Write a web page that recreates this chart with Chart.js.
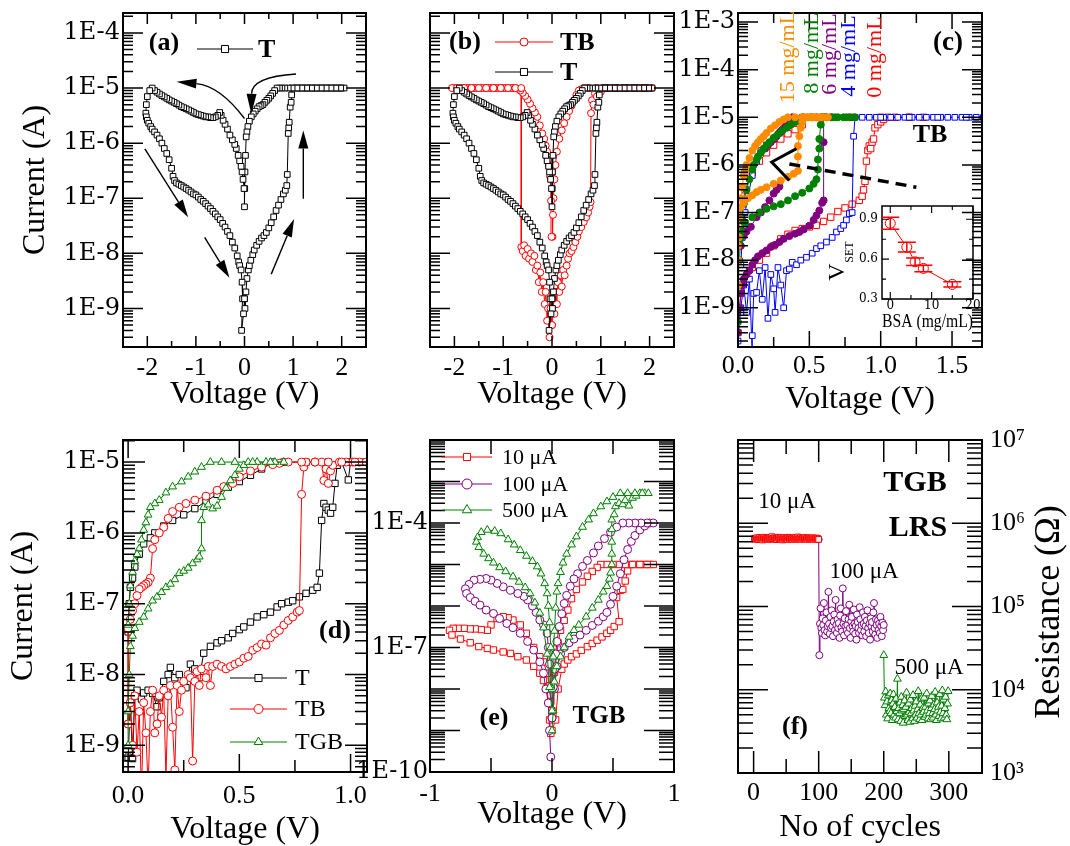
<!DOCTYPE html>
<html>
<head>
<meta charset="utf-8">
<script src="https://cdn.jsdelivr.net/npm/chart.js@4.4.1/dist/chart.umd.min.js"></script>
<style>
  body { margin: 0; background: #fff; }
  #wrap { position: relative; width: 1070px; height: 846px; background: #fff; }
  #wrap canvas { position: absolute; left: 0; top: 0; }
</style>
</head>
<body>
<div id="wrap">
  <canvas id="pa" width="1070" height="846"></canvas>
  <canvas id="pb" width="1070" height="846"></canvas>
  <canvas id="pc" width="1070" height="846"></canvas>
  <canvas id="pcInset" width="1070" height="846"></canvas>
  <canvas id="pd" width="1070" height="846"></canvas>
  <canvas id="pe" width="1070" height="846"></canvas>
  <canvas id="pf" width="1070" height="846"></canvas>
</div>
<script>
// ---------- tick labels ----------
const yLabelsA = [[1e-9,'1E-9'],[1e-8,'1E-8'],[1e-7,'1E-7'],[1e-6,'1E-6'],[1e-5,'1E-5'],[1e-4,'1E-4']];
const yLabelsC = [[1e-9,'1E-9'],[1e-8,'1E-8'],[1e-7,'1E-7'],[1e-6,'1E-6'],[1e-5,'1E-5'],[1e-4,'1E-4'],[1e-3,'1E-3']];
const yLabelsD = [[1e-9,'1E-9'],[1e-8,'1E-8'],[1e-7,'1E-7'],[1e-6,'1E-6'],[1e-5,'1E-5']];
const yLabelsE = [[1e-10,'1E-10'],[1e-7,'1E-7'],[1e-4,'1E-4']];
const yLabelsF = [[1e3,'10³'],[1e4,'10⁴'],[1e5,'10⁵'],[1e6,'10⁶'],[1e7,'10⁷']];
const xLabelsAB = [[-2,'-2'],[-1,'-1'],[0,'0'],[1,'1'],[2,'2']];
const xLabelsC = [[0,'0.0'],[0.5,'0.5'],[1,'1.0'],[1.5,'1.5']];
const xLabelsD = [[0,'0.0'],[0.5,'0.5'],[1,'1.0']];
const xLabelsE = [[-1,'-1'],[0,'0'],[1,'1']];
const xLabelsF = [[0,'0'],[100,'100'],[200,'200'],[300,'300']];
const insetXLabels = [[0,'0'],[10,'10'],[20,'20']];
const insetYLabels = [[0.3,'0.3'],[0.6,'0.6'],[0.9,'0.9']];

// ---------- data: [voltage (V), current (A)] in sweep order ----------
// (a), (b): T
const tSweep = [
  [0.0,1.5e-9],[0.01,1e-9],[0.03,2e-9],[0.05,3.5e-9],[0.08,5e-9],[0.1,6e-9],[0.13,7.5e-9],[0.17,9.5e-9],[0.2,1.15e-8],[0.25,1.4e-8],
  [0.3,1.65e-8],[0.35,1.9e-8],[0.4,2.1e-8],[0.45,2.4e-8],[0.5,2.9e-8],[0.55,3.6e-8],[0.6,4.6e-8],[0.65,6e-8],[0.7,7.5e-8],[0.75,9.5e-8],
  [0.8,1.2e-7],[0.84,1.4e-7],[0.87,1.7e-7],[0.88,2.7e-7],[0.9,1.5e-6],[0.91,1.9e-6],[0.92,2.4e-6],[0.94,4.5e-6],[0.96,5.5e-6],[0.97,7.5e-6],[0.98,1e-5],
  [1.05,1e-5],[1.1,1e-5],[1.15,1e-5],[1.2,1e-5],[1.25,1e-5],[1.3,1e-5],[1.35,1e-5],[1.4,1e-5],[1.45,1e-5],[1.5,1e-5],[1.55,1e-5],[1.6,1e-5],
  [1.65,1e-5],[1.7,1e-5],[1.75,1e-5],[1.8,1e-5],[1.85,1e-5],[1.9,1e-5],[1.95,1e-5],[2.0,1e-5],[2.05,1e-5],
  [1.98,1e-5],[1.88,1e-5],[1.78,1e-5],[1.68,1e-5],[1.58,1e-5],[1.48,1e-5],[1.38,1e-5],[1.28,1e-5],[1.18,1e-5],[1.08,1e-5],[0.98,1e-5],
  [0.9,1e-5],[0.83,1e-5],[0.77,1e-5],[0.72,1e-5],[0.67,1e-5],
  [0.62,9e-6],[0.58,8e-6],[0.54,7.2e-6],[0.5,6.5e-6],[0.46,6e-6],[0.42,5.5e-6],[0.38,5e-6],[0.34,4.8e-6],[0.3,4.6e-6],[0.26,4.2e-6],
  [0.22,3.8e-6],[0.18,3.4e-6],[0.14,3e-6],[0.1,2.5e-6],[0.07,2e-6],[0.05,1.6e-6],[0.035,1.3e-6],[0.02,6e-7],[0.01,3e-7],[0.005,1.5e-7],[0.0,7e-8],
  [-0.01,1.5e-7],[-0.03,2.2e-7],[-0.05,3e-7],[-0.07,3.8e-7],[-0.1,4.8e-7],[-0.13,6e-7],[-0.17,8e-7],[-0.2,9.5e-7],[-0.25,1.15e-6],[-0.3,1.4e-6],
  [-0.35,1.8e-6],[-0.4,2.2e-6],[-0.44,2.6e-6],[-0.48,3.2e-6],[-0.51,3.6e-6],[-0.55,3.2e-6],[-0.6,3e-6],[-0.65,2.9e-6],[-0.7,2.9e-6],[-0.75,3e-6],
  [-0.8,3e-6],[-0.85,3.1e-6],[-0.9,3.2e-6],[-0.95,3.3e-6],[-1.0,3.4e-6],[-1.05,3.6e-6],[-1.1,3.8e-6],[-1.15,4e-6],[-1.2,4.2e-6],[-1.25,4.4e-6],
  [-1.3,4.6e-6],[-1.35,4.9e-6],[-1.4,5.2e-6],[-1.45,5.5e-6],[-1.5,5.8e-6],[-1.55,6.1e-6],[-1.6,6.5e-6],[-1.65,6.9e-6],[-1.7,7.3e-6],[-1.75,7.8e-6],
  [-1.8,8.4e-6],[-1.85,9e-6],[-1.9,1e-5],[-1.95,9e-6],[-2.0,7e-6],[-2.02,5e-6],[-2.03,3.5e-6],[-2.02,3e-6],[-2.0,2.6e-6],
  [-1.97,2.3e-6],[-1.93,2e-6],[-1.9,1.8e-6],[-1.85,1.6e-6],[-1.8,1.4e-6],[-1.75,1.2e-6],[-1.7,1e-6],[-1.65,8e-7],[-1.6,6.5e-7],[-1.55,5e-7],
  [-1.5,3.5e-7],[-1.47,2.5e-7],[-1.44,2.1e-7],[-1.4,1.9e-7],[-1.35,1.8e-7],[-1.3,1.7e-7],[-1.25,1.6e-7],[-1.2,1.5e-7],[-1.15,1.4e-7],[-1.1,1.3e-7],
  [-1.05,1.2e-7],[-1.0,1.15e-7],[-0.95,1.05e-7],[-0.9,9.5e-8],[-0.85,8.8e-8],[-0.8,8e-8],[-0.75,7.2e-8],[-0.7,6.5e-8],[-0.65,5.8e-8],[-0.6,5.2e-8],
  [-0.55,4.6e-8],[-0.5,4.1e-8],[-0.45,3.5e-8],[-0.4,3e-8],[-0.35,2.5e-8],[-0.3,2.1e-8],[-0.25,1.6e-8],[-0.2,1.25e-8],[-0.15,9e-9],[-0.12,7e-9],
  [-0.1,6e-9],[-0.07,5e-9],[-0.05,3e-9],[-0.04,1.5e-9],[-0.06,4e-10],[-0.02,8e-10],[0.0,1.5e-9]
];
// (b): TB
const tbSweep = [
  [0.0,5e-10],[0.03,1.2e-9],[0.05,8e-10],[0.08,2e-9],[0.1,1.2e-9],[0.12,3e-9],[0.15,2e-9],[0.18,4e-9],[0.2,2.5e-9],[0.23,5e-9],
  [0.26,4e-9],[0.3,6e-9],[0.33,8e-9],[0.36,1e-8],[0.4,1.1e-8],[0.44,1.3e-8],[0.48,1.6e-8],[0.52,2e-8],[0.55,2.5e-8],[0.6,3e-8],
  [0.65,3.7e-8],[0.7,4.5e-8],[0.74,5.5e-8],[0.77,7e-8],[0.79,8.5e-8],
  [0.8,3.5e-6],[0.82,6e-6],[0.85,5e-6],[0.88,8e-6],[0.92,7e-6],[0.96,9e-6],[1.0,8.5e-6],[1.05,1e-5],
  [1.15,1e-5],[1.25,1e-5],[1.35,1e-5],[1.45,1e-5],[1.55,1e-5],[1.65,1e-5],[1.75,1e-5],[1.85,1e-5],[1.95,1e-5],[2.05,1e-5],
  [1.9,1e-5],[1.7,1e-5],[1.5,1e-5],[1.3,1e-5],[1.1,1e-5],[0.9,1e-5],[0.75,1e-5],[0.65,1e-5],
  [0.6,9.5e-6],[0.55,9e-6],[0.5,7.5e-6],[0.45,6e-6],[0.4,4.8e-6],[0.35,3.8e-6],[0.3,3e-6],[0.25,2.3e-6],[0.2,1.7e-6],[0.15,1.2e-6],
  [0.1,7e-7],[0.07,4e-7],[0.05,2.2e-7],[0.03,1e-7],[0.02,5e-8],[0.01,2e-8],
  [-0.01,2e-8],[-0.02,9e-8],[-0.04,2.5e-7],[-0.06,4e-7],[-0.08,5e-7],[-0.1,7e-7],[-0.13,9e-7],[-0.16,1.2e-6],[-0.2,1.5e-6],[-0.25,2.1e-6],
  [-0.3,3e-6],[-0.35,3.6e-6],[-0.4,4.3e-6],[-0.45,5.2e-6],[-0.5,6.2e-6],[-0.55,7.2e-6],[-0.6,8.2e-6],[-0.65,9e-6],[-0.7,9.7e-6],[-0.75,1e-5],
  [-0.8,1e-5],[-0.85,1e-5],[-0.9,1e-5],[-0.95,1e-5],[-1.0,1e-5],[-1.05,1e-5],[-1.1,1e-5],[-1.15,1e-5],[-1.2,1e-5],[-1.25,1e-5],
  [-1.3,1e-5],[-1.35,1e-5],[-1.4,1e-5],[-1.45,1e-5],[-1.5,1e-5],[-1.55,1e-5],[-1.6,1e-5],[-1.65,1e-5],[-1.7,1e-5],[-1.75,1e-5],
  [-1.8,1e-5],[-1.85,1e-5],[-1.9,1e-5],[-1.95,1e-5],[-2.0,1e-5],[-2.05,1e-5],
  [-1.95,1e-5],[-1.8,1e-5],[-1.65,1e-5],[-1.5,1e-5],[-1.35,1e-5],[-1.2,1e-5],[-1.05,1e-5],[-0.9,1e-5],[-0.75,1e-5],[-0.63,1e-5],
  [-0.63,1.3e-8],[-0.6,1.1e-8],[-0.57,1.4e-8],[-0.54,9e-9],[-0.5,1.2e-8],[-0.47,8e-9],[-0.43,1e-8],[-0.4,7e-9],[-0.36,9e-9],[-0.33,5e-9],
  [-0.3,6e-9],[-0.27,3e-9],[-0.24,4.5e-9],[-0.21,2e-9],[-0.18,3e-9],[-0.15,1.2e-9],[-0.13,2e-9],[-0.1,6e-10],[-0.08,1e-9],[-0.05,3e-10],
  [-0.03,1e-9],[0.0,5e-10]
];
// (c): TB with BSA, 0 / 4 / 6 / 8 / 15 mg/mL
const bsa0 = [
  [0.0,3e-10],[0.02,2e-9],[0.05,4e-9],[0.1,7e-9],[0.15,1e-8],[0.2,1.4e-8],[0.25,2e-8],[0.3,2.8e-8],[0.35,3.5e-8],[0.4,4.2e-8],
  [0.45,4.6e-8],[0.5,5e-8],[0.55,5.4e-8],[0.6,6.5e-8],[0.65,8e-8],[0.7,1.05e-7],[0.75,1.25e-7],[0.8,1.5e-7],[0.85,1.8e-7],[0.87,2.2e-7],
  [0.88,3e-7],[0.89,4.5e-7],[0.9,1.2e-6],[0.91,2e-6],[0.92,2.5e-6],[0.93,2.2e-6],[0.94,3e-6],[0.95,3.5e-6],[0.96,6e-6],[0.98,7e-6],
  [1.0,8e-6],[1.02,9e-6],[1.05,1e-5],[1.1,1e-5],[1.2,1e-5],[1.3,1e-5],[1.2,1e-5],[1.0,1e-5],[0.8,1e-5],[0.6,1e-5],[0.5,1e-5],
  [0.45,7e-6],[0.4,5.5e-6],[0.35,4.5e-6],[0.3,3.5e-6],[0.25,2.6e-6],[0.2,1.8e-6],[0.15,1.2e-6],[0.1,7e-7],[0.05,3e-7],[0.02,1e-7],[0.0,2e-8]
];
const bsa4 = [
  [0.0,2e-10],[0.02,1e-9],[0.04,3e-9],[0.06,8e-10],[0.08,4e-9],[0.1,1e-10],[0.1,2.6e-10],[0.11,2e-9],[0.13,2.1e-9],[0.15,6e-9],
  [0.17,1.5e-9],[0.19,7e-9],[0.21,6e-10],[0.23,5e-9],[0.25,2.5e-9],[0.26,8e-10],[0.28,7e-9],[0.3,3e-9],[0.32,1e-9],[0.34,6e-9],
  [0.36,6.5e-9],[0.38,9e-9],[0.41,8e-9],[0.44,1e-8],[0.48,1.15e-8],[0.52,1.4e-8],[0.55,1.75e-8],[0.58,2e-8],[0.62,2.4e-8],[0.66,3e-8],
  [0.69,3.9e-8],[0.72,4.6e-8],[0.74,5.4e-8],[0.76,7e-8],[0.78,9.5e-8],[0.8,1e-7],[0.81,4e-6],[0.82,1e-5],
  [0.87,1e-5],[0.92,1e-5],[0.97,1e-5],[1.02,1e-5],[1.07,1e-5],[1.12,1e-5],[1.17,1e-5],[1.22,1e-5],[1.27,1e-5],[1.32,1e-5],
  [1.37,1e-5],[1.42,1e-5],[1.47,1e-5],[1.52,1e-5],[1.57,1e-5],[1.62,1e-5],[1.67,1e-5],[1.72,1e-5],
  [1.6,1e-5],[1.4,1e-5],[1.2,1e-5],[1.0,1e-5],[0.8,1e-5],[0.6,1e-5],[0.45,1e-5],
  [0.4,8e-6],[0.35,6.5e-6],[0.3,5e-6],[0.25,3.5e-6],[0.2,2.6e-6],[0.16,2e-6],[0.13,1.2e-6],[0.1,6e-7],[0.07,2.2e-7],[0.05,1e-7],[0.03,3e-8],[0.02,8e-9]
];
const bsa6 = [
  [0.0,3e-10],[0.01,1e-9],[0.02,2e-9],[0.03,3e-9],[0.04,4e-9],[0.06,5e-9],[0.08,6e-9],[0.1,8e-9],[0.12,1e-8],[0.14,1.2e-8],
  [0.17,1.4e-8],[0.2,1.6e-8],[0.23,1.9e-8],[0.26,2.1e-8],[0.29,2.4e-8],[0.32,2.8e-8],[0.36,3.2e-8],[0.4,3.6e-8],[0.43,3.9e-8],[0.46,4.4e-8],
  [0.5,5.3e-8],[0.53,7e-8],[0.55,8.7e-8],[0.57,1.1e-7],[0.59,1.6e-7],[0.6,1.8e-7],[0.6,3e-6],[0.6,1e-5],[0.65,1e-5],[0.55,1e-5],
  [0.45,1e-5],[0.38,1e-5],[0.35,8e-6],[0.33,6.5e-6],[0.31,5.5e-6],[0.29,4.7e-6],[0.27,4e-6],[0.25,3.5e-6],[0.23,3e-6],[0.21,2.6e-6],[0.19,2.2e-6]
];
const bsa6Low = [
  [0.29,3.5e-7],[0.27,3e-7],[0.25,2.5e-7],[0.22,1.8e-7],[0.19,1.3e-7],[0.16,1e-7],[0.13,8e-8],[0.09,5e-8],[0.06,4e-8],[0.04,3.3e-8],[0.02,2e-8]
];
const bsa8 = [
  [0.0,5e-10],[0.003,3e-9],[0.006,1e-8],[0.01,2.5e-8],[0.02,4e-8],[0.05,6e-8],[0.1,8e-8],[0.15,1e-7],[0.2,1.2e-7],[0.25,1.35e-7],
  [0.3,1.5e-7],[0.35,1.8e-7],[0.4,2.2e-7],[0.45,2.6e-7],[0.5,3.2e-7],[0.53,4e-7],[0.55,5e-7],[0.56,8e-7],[0.56,1.3e-6],[0.57,2.2e-6],
  [0.57,3.5e-6],[0.58,7e-6],[0.58,1e-5],[0.62,1e-5],[0.66,1e-5],[0.7,1e-5],[0.74,1e-5],[0.78,1e-5],[0.82,1e-5],[0.76,1e-5],
  [0.68,1e-5],[0.6,1e-5],[0.52,1e-5],[0.46,1e-5],
  [0.43,9e-6],[0.4,8e-6],[0.37,7e-6],[0.34,6e-6],[0.31,5.2e-6],[0.28,4.4e-6],[0.25,3.7e-6],[0.22,3e-6],[0.2,2.6e-6],[0.18,2.2e-6],
  [0.16,1.8e-6],[0.14,1.5e-6],[0.13,1.3e-6],[0.11,1e-6],[0.1,8e-7],[0.08,5e-7],[0.06,3e-7],[0.04,1.5e-7],[0.03,7e-8],[0.02,3e-8],[0.01,1e-8]
];
const bsa15 = [
  [0.0,3e-9],[0.003,1e-8],[0.006,3e-8],[0.01,8e-8],[0.02,1.3e-7],[0.04,1.6e-7],[0.07,2e-7],[0.1,2.3e-7],[0.13,2.7e-7],[0.16,3e-7],
  [0.2,3.4e-7],[0.25,4e-7],[0.3,4.7e-7],[0.35,5.6e-7],[0.39,6.5e-7],[0.42,7.5e-7],[0.42,1.5e-6],[0.42,2.5e-6],[0.43,4e-6],[0.44,6e-6],
  [0.45,8e-6],[0.45,1e-5],[0.48,1e-5],[0.51,1e-5],[0.54,1e-5],[0.57,1e-5],[0.6,1e-5],[0.63,1e-5],[0.58,1e-5],[0.52,1e-5],
  [0.46,1e-5],[0.4,1e-5],[0.35,1e-5],
  [0.32,9e-6],[0.29,8e-6],[0.26,6.8e-6],[0.23,5.8e-6],[0.2,4.7e-6],[0.18,4e-6],[0.16,3.5e-6],[0.14,3e-6],[0.12,2.5e-6],[0.1,2e-6],
  [0.08,1.4e-6],[0.06,1e-6],[0.05,7.5e-7],[0.04,6e-7],[0.03,3.5e-7],[0.02,2e-7],[0.01,8e-8],[0.0,2e-8]
];
// (c) guide marks: chevron and dashed line
const chevronC = [[0.41,2.2e-6],[0.236,1.15e-6],[0.36,4.7e-7]];
const dashC = [[0.36,1.05e-6],[1.25,3.4e-7]];
// (c) inset: V_SET vs BSA
const bsaConc = [0, 4, 6, 8, 15];
const vSet = [0.87, 0.69, 0.58, 0.53, 0.41];
const vSetErr = [0.045, 0.037, 0.028, 0.024, 0.019];

// (d): T, TB, TGB
const dT = [
  [0.0,6.8e-10],[0.01,4e-9],[0.02,6.5e-10],[0.03,5e-9],[0.04,6e-9],[0.06,4.5e-9],[0.07,5.5e-9],[0.09,6e-9],[0.11,5.4e-9],[0.13,3.5e-9],
  [0.14,4.7e-9],[0.16,8e-9],[0.18,1e-8],[0.19,1.26e-8],[0.21,9e-9],[0.23,1e-8],[0.25,7e-9],[0.26,6.5e-9],[0.28,1.4e-8],[0.3,1.2e-8],
  [0.32,9e-9],[0.34,2e-8],[0.37,2.5e-8],[0.4,2.8e-8],[0.42,3e-8],[0.45,3.3e-8],[0.47,3.8e-8],[0.5,4.3e-8],[0.52,4.7e-8],[0.55,5.5e-8],
  [0.58,6.5e-8],[0.61,7e-8],[0.64,7.6e-8],[0.67,9e-8],[0.69,1e-7],[0.72,1.05e-7],[0.74,1.1e-7],[0.77,1.25e-7],[0.8,1.4e-7],[0.83,1.55e-7],
  [0.85,1.7e-7],[0.86,2.7e-7],[0.87,1.5e-6],[0.88,2.6e-6],[0.89,2.3e-6],[0.9,2.1e-6],[0.91,1.9e-6],[0.92,2.3e-6],[0.93,5e-6],[0.94,9e-6],
  [0.96,1e-5],[0.99,5.6e-6],[1.0,1e-5],[1.03,1e-5],[1.06,1e-5],[1.09,1e-5],[1.0,1e-5],[0.9,1e-5],[0.8,1e-5],[0.7,1e-5],[0.65,1e-5],
  [0.6,8e-6],[0.55,6.5e-6],[0.5,5.3e-6],[0.45,4.4e-6],[0.4,3.5e-6],[0.35,2.8e-6],[0.3,2.2e-6],[0.25,1.8e-6],[0.2,1.5e-6],[0.16,1.25e-6],
  [0.12,1e-6],[0.1,8.5e-7],[0.07,7e-7],[0.05,5e-7],[0.03,3.3e-7],[0.02,2.3e-7],[0.01,1.7e-7],[0.005,1e-7],[0.0,4e-8]
];
const dTB = [
  [0.0,2e-9],[0.01,4e-9],[0.02,1e-9],[0.03,5e-9],[0.04,8e-10],[0.05,3e-9],[0.06,2e-10],[0.07,4e-9],[0.08,1.5e-9],[0.09,2.5e-10],
  [0.1,3e-9],[0.11,6e-9],[0.12,1.5e-9],[0.13,2e-9],[0.14,5e-9],[0.15,2.5e-9],[0.16,6e-9],[0.17,3.5e-10],[0.18,5e-9],[0.19,7e-9],
  [0.2,1.8e-9],[0.21,4.5e-10],[0.22,7e-9],[0.23,3e-9],[0.24,6e-9],[0.25,8e-9],[0.27,1e-8],[0.28,9e-9],[0.29,6e-10],[0.3,8e-9],
  [0.31,1.1e-8],[0.32,7e-9],[0.33,1.2e-8],[0.35,9e-9],[0.36,1.3e-8],[0.37,7e-9],[0.38,1.3e-8],[0.4,1.4e-8],[0.42,1.3e-8],[0.44,1.2e-8],
  [0.46,1.3e-8],[0.48,1.4e-8],[0.5,1.5e-8],[0.52,1.7e-8],[0.54,1.8e-8],[0.56,2.2e-8],[0.58,2.4e-8],[0.6,2.7e-8],[0.62,2.6e-8],[0.64,3.3e-8],
  [0.66,3.8e-8],[0.68,4.2e-8],[0.7,5e-8],[0.72,5.8e-8],[0.74,6.5e-8],[0.76,7.6e-8],[0.77,8e-8],[0.78,3.5e-6],[0.79,8.5e-6],[0.8,1e-5],
  [0.84,1e-5],[0.87,1e-5],[0.88,5.5e-6],[0.89,8e-6],[0.9,5e-6],[0.91,7.5e-6],[0.92,9e-6],[0.95,1e-5],[0.98,1e-5],[1.01,1e-5],
  [1.04,1e-5],[1.07,1e-5],[1.02,1e-5],[0.96,1e-5],[0.9,1e-5],[0.84,1e-5],[0.78,1e-5],[0.72,1e-5],
  [0.68,9.6e-6],[0.65,9.2e-6],[0.6,8.5e-6],[0.55,7.5e-6],[0.5,6.2e-6],[0.47,5e-6],[0.43,4.5e-6],[0.4,4e-6],[0.35,3.3e-6],[0.3,2.9e-6],
  [0.26,2.6e-6],[0.23,2.3e-6],[0.2,2e-6],[0.18,1.6e-6],[0.16,1.2e-6],[0.14,1e-6],[0.12,8e-7],[0.11,6e-7],[0.1,2.3e-7],[0.09,2e-7],
  [0.08,1.9e-7],[0.07,1.8e-7],[0.06,1.7e-7],[0.05,1.6e-7],[0.04,1.3e-7],[0.03,1e-7],[0.02,8e-8],[0.01,6e-8],[0.0,4.5e-8],[0.0,2e-9]
];
const dTGB = [
  [0.0,1e-9],[0.0,3e-9],[0.005,1e-8],[0.01,2.5e-8],[0.02,3.5e-8],[0.03,4.5e-8],[0.05,5.5e-8],[0.07,6.5e-8],[0.09,8.5e-8],[0.11,1.1e-7],
  [0.13,1.25e-7],[0.15,1.45e-7],[0.17,1.7e-7],[0.19,1.9e-7],[0.21,2.2e-7],[0.23,2.7e-7],[0.25,2.9e-7],[0.27,3.2e-7],[0.29,3.7e-7],[0.31,4.2e-7],
  [0.32,4.6e-7],[0.33,6e-7],[0.33,1.5e-6],[0.34,2.3e-6],[0.36,2.5e-6],[0.38,2.2e-6],[0.4,2.4e-6],[0.42,3.2e-6],[0.44,4.3e-6],[0.46,5.5e-6],
  [0.48,6.5e-6],[0.5,8e-6],[0.52,9e-6],[0.54,1e-5],[0.58,1e-5],[0.62,1e-5],[0.66,1e-5],[0.7,1e-5],[0.64,1e-5],[0.56,1e-5],
  [0.48,1e-5],[0.42,1e-5],[0.37,1e-5],
  [0.33,8.5e-6],[0.3,7.3e-6],[0.27,6.2e-6],[0.24,5.3e-6],[0.2,4.5e-6],[0.17,3.7e-6],[0.14,2.9e-6],[0.12,2.6e-6],[0.1,2.3e-6],[0.09,1.8e-6],
  [0.08,1.4e-6],[0.07,1.1e-6],[0.06,8e-7],[0.05,6e-7],[0.04,5e-7],[0.03,4e-7],[0.02,2.8e-7],[0.01,1.8e-7],[0.005,1e-7],[0.0,5e-8]
];

// (e): TGB at compliance 10 / 100 / 500 uA
const cc10 = [
  [0.0,1e-9],[0.03,1.8e-9],[0.05,1e-8],[0.08,3e-8],[0.1,4e-8],[0.13,5e-8],[0.16,6e-8],[0.2,7e-8],[0.24,8.5e-8],[0.29,1.05e-7],
  [0.33,1.25e-7],[0.37,1.5e-7],[0.41,1.8e-7],[0.45,2.2e-7],[0.48,2.6e-7],[0.51,3.2e-7],[0.55,4.2e-7],[0.53,1.6e-6],[0.56,2.4e-6],[0.58,2.5e-6],
  [0.6,4e-6],[0.62,7e-6],[0.64,1e-5],[0.68,1e-5],[0.72,1e-5],[0.76,1e-5],[0.8,1e-5],[0.83,1e-5],[0.78,1e-5],[0.72,1e-5],
  [0.66,1e-5],[0.6,1e-5],[0.55,1e-5],[0.5,1e-5],[0.45,1e-5],[0.4,1e-5],
  [0.37,8.5e-6],[0.33,6.8e-6],[0.29,5.2e-6],[0.25,3.8e-6],[0.2,2.5e-6],[0.16,1.5e-6],[0.13,8e-7],[0.1,4.5e-7],[0.07,2.6e-7],[0.05,1.3e-7],
  [0.04,7e-8],[0.02,2.5e-8],[0.01,1.1e-8],[0.0,3e-9],
  [-0.01,5e-9],[-0.02,1.2e-8],[-0.04,2.4e-8],[-0.07,4.5e-8],[-0.1,6e-8],[-0.15,1e-7],[-0.21,2.2e-7],[-0.26,3.5e-7],[-0.32,4.6e-7],[-0.36,5.2e-7],
  [-0.4,5.5e-7],[-0.45,5e-7],[-0.5,3.5e-7],[-0.53,2.6e-7],[-0.58,2.7e-7],[-0.63,2.8e-7],[-0.67,2.8e-7],[-0.72,2.9e-7],[-0.77,2.9e-7],[-0.81,2.9e-7],
  [-0.84,2.6e-7],[-0.82,2e-7],[-0.75,1.6e-7],[-0.67,1.3e-7],[-0.6,1.05e-7],[-0.53,9.5e-8],[-0.48,8.7e-8],[-0.4,7.8e-8],[-0.34,7.2e-8],[-0.28,6e-8],
  [-0.21,5e-8],[-0.15,3.5e-8],[-0.1,2.4e-8],[-0.07,1.6e-8],[-0.04,1.1e-8],[-0.02,1.8e-9],[-0.01,8.5e-10]
];
const cc100 = [
  [0.0,2e-9],[0.02,1e-8],[0.04,3.5e-8],[0.07,7e-8],[0.1,1e-7],[0.14,1.3e-7],[0.18,1.6e-7],[0.23,2e-7],[0.28,2.6e-7],[0.33,3.4e-7],
  [0.38,4.3e-7],[0.42,5.5e-7],[0.45,7e-7],[0.48,1.1e-6],[0.5,1.7e-6],[0.53,3e-6],[0.56,6e-6],[0.59,1.3e-5],[0.62,2.3e-5],[0.65,3.6e-5],
  [0.68,5e-5],[0.72,6.8e-5],[0.76,8.5e-5],[0.8,1e-4],[0.83,1e-4],[0.78,1e-4],[0.73,1e-4],[0.68,1e-4],[0.63,1e-4],[0.58,1e-4],
  [0.53,8e-5],[0.48,6e-5],[0.43,4.2e-5],[0.38,2.8e-5],[0.34,1.9e-5],[0.29,1.25e-5],[0.25,9e-6],[0.21,6e-6],[0.18,4.5e-6],[0.15,3e-6],
  [0.12,1.8e-6],[0.1,1.15e-6],[0.08,6.5e-7],[0.06,3.2e-7],[0.04,1.4e-7],[0.03,7e-8],[0.02,3e-8],[0.01,1.1e-8],[0.0,2e-9],
  [-0.01,1e-8],[-0.02,4e-8],[-0.03,1e-7],[-0.04,2.2e-7],[-0.07,3.5e-7],[-0.1,4.6e-7],[-0.13,7e-7],[-0.16,1e-6],[-0.2,1.4e-6],[-0.23,1.7e-6],
  [-0.28,2e-6],[-0.34,2.4e-6],[-0.4,2.9e-6],[-0.45,3.5e-6],[-0.5,4.2e-6],[-0.54,4.6e-6],[-0.59,4.4e-6],[-0.64,4.2e-6],[-0.68,3.3e-6],[-0.71,2.6e-6],
  [-0.7,2e-6],[-0.67,1.6e-6],[-0.63,1.3e-6],[-0.59,1.05e-6],[-0.54,8e-7],[-0.48,6.6e-7],[-0.43,5e-7],[-0.37,3.8e-7],[-0.32,3e-7],[-0.26,2.2e-7],
  [-0.2,1.4e-7],[-0.15,8.7e-8],[-0.1,4.5e-8],[-0.07,2.4e-8],[-0.05,1e-8],[-0.03,4.6e-9],[-0.02,1e-9],[-0.01,2.3e-10]
];
const cc500 = [
  [0.0,1e-9],[0.01,3e-9],[0.02,1.5e-8],[0.04,3.5e-8],[0.07,6e-8],[0.1,1e-7],[0.14,1.8e-7],[0.18,2.6e-7],[0.22,3.5e-7],[0.28,5.5e-7],
  [0.33,9e-7],[0.38,1.4e-6],[0.42,2.2e-6],[0.45,3e-6],[0.47,4.5e-6],[0.48,6.3e-6],[0.49,1e-5],[0.49,1.8e-5],[0.49,3.5e-5],[0.49,7e-5],
  [0.49,1.2e-4],[0.51,1.6e-4],[0.52,2.5e-4],[0.55,3e-4],[0.58,2.8e-4],[0.6,3.5e-4],[0.63,2.6e-4],[0.66,4e-4],[0.69,4.5e-4],[0.72,5.2e-4],
  [0.76,5.2e-4],[0.79,5.2e-4],[0.74,5.2e-4],[0.68,5.2e-4],[0.62,5.2e-4],[0.56,5.2e-4],
  [0.5,4.2e-4],[0.45,3.3e-4],[0.4,2.5e-4],[0.34,1.7e-4],[0.3,1.2e-4],[0.25,8e-5],[0.2,4.7e-5],[0.16,3e-5],[0.12,1.8e-5],[0.09,1.1e-5],
  [0.07,6.5e-6],[0.05,3.5e-6],[0.04,2.2e-6],[0.03,9e-7],[0.02,2.5e-7],[0.01,6e-8],[0.0,1e-8],
  [-0.01,1e-7],[-0.02,4e-7],[-0.03,1e-6],[-0.04,2e-6],[-0.06,3.5e-6],[-0.09,6e-6],[-0.12,8.9e-6],[-0.16,1.2e-5],[-0.21,1.6e-5],[-0.26,2.2e-5],
  [-0.31,3e-5],[-0.36,4e-5],[-0.42,5.6e-5],[-0.47,6.4e-5],[-0.53,6.8e-5],[-0.58,6e-5],[-0.61,4.5e-5],[-0.62,3.5e-5],[-0.6,2.6e-5],
  [-0.56,1.8e-5],[-0.52,1.4e-5],[-0.48,1.1e-5],[-0.43,8.5e-6],[-0.38,6.8e-6],[-0.32,5.1e-6],[-0.27,3.8e-6],[-0.22,2.8e-6],[-0.18,2e-6],[-0.14,1.2e-6],
  [-0.1,6.8e-7],[-0.07,3e-7],[-0.04,7e-8],[-0.02,1.1e-8],[0.0,3e-9]
];

// (f): LRS resistance per cycle, in kOhm
const lrs10uA = [
  650,660,640,655,670,645,635,660,675,650, 640,665,655,630,660,680,650,645,670,655,
  660,640,650,675,665,645,655,690,660,640, 650,670,655,660,645,635,665,680,650,660,
  640,655,670,650,630,660,675,645,655,665, 650,640,680,660,655,645,670,650,660,640,
  665,655,650,675,640,660,650,685,655,645, 660,670,650,640,665,655,660,650,675,645,
  655,660,640,670,650,665,645,660,655,650, 670,640,660,655,650,665,645,660,655,640
]; // cycles 1..100
const lrs100uA = [
  640,26,
  62,95,55,48,72,60,110,52,45,68, 85,50,58,150,62,47,75,55,90,58,
  44,66,80,52,120,60,48,70,55,63, 42,78,95,56,50,165,62,45,72,58,
  88,52,60,48,70,105,55,42,66,75, 58,50,92,62,47,58,40,80,65,55,
  48,98,70,52,60,45,85,62,50,75, 58,44,68,90,55,48,62,40,72,58,
  65,50,85,110,55,46,70,60,42,68, 52,62,48,75,58,44,64,52,60
]; // cycles 100..200
const lrs500uA = [
  26,
  8.0,6.5,9.5,5.0,7.2,4.5,8.5,6.0,5.5,9.0, 5.2,7.5,4.3,6.8,8.8,5.0,6.2,4.6,7.8,5.5,
  13.5,4.4,6.0,5.2,7.0,4.2,8.2,5.6,6.5,4.0, 5.8,7.4,4.8,6.2,9.2,5.0,4.3,6.8,5.4,4.1,
  7.6,5.2,6.0,4.5,8.6,5.6,4.2,6.4,5.0,7.2, 4.6,5.8,9.6,5.2,4.4,6.6,5.0,7.8,4.3,6.0,
  5.4,8.0,4.7,6.2,5.0,9.0,5.6,4.5,6.8,5.2, 7.4,4.4,6.0,8.4,5.2,4.6,6.6,5.8,9.4,5.0,
  4.3,7.0,5.6,6.2,4.8,8.8,5.4,4.5,6.4,9.8, 5.2,7.6,4.6,6.0,8.2,5.0,4.4,6.8,9.6
]; // cycles 200..300

// ---------- drawing helpers ----------
const SERIF = '"Liberation Serif", "Times New Roman", serif';
const DJ = '"DejaVu Serif", serif';
const W = 1070, H = 846;
const RED = '#ff0000', BLUE = '#0000ff', PURPLE = '#800080', GREEN = '#008000', ORANGE = '#ff8c00';

function logTicks(min, max, labels, bigLen, smallLen) {
  const out = [];
  for (let e = Math.floor(Math.log10(min)); e <= Math.ceil(Math.log10(max)); e++) {
    for (let m = 1; m <= 9; m++) {
      const v = m * Math.pow(10, e);
      if (v < min * 0.999 || v > max * 1.001) continue;
      const lab = labels.find(p => Math.abs(p[0] / v - 1) < 1e-6);
      out.push({value: v, len: m === 1 ? bigLen : smallLen, text: lab ? lab[1] : ''});
    }
  }
  return out;
}
function linTicks(labels, minors, bigLen, smallLen) {
  return labels.map(p => ({value: p[0], len: bigLen, text: p[1]}))
    .concat(minors.map(v => ({value: v, len: smallLen, text: ''})))
    .sort((a, b) => a.value - b.value);
}

function axis(o) {
  return {
    type: o.type || 'linear',
    position: o.position,
    min: o.min, max: o.max,
    afterBuildTicks: s => { s.ticks = o.ticks.map(t => Object.assign({}, t)); },
    afterFit: s => {
      if (o.position === 'bottom') s.height = o.size; else s.width = o.size;
      s.paddingLeft = 0; s.paddingRight = 0; s.paddingTop = 0; s.paddingBottom = 0;
    },
    grid: {display: false, drawTicks: false},
    border: {display: false},
    ticks: {
      autoSkip: false, maxRotation: 0, minRotation: 0, padding: o.pad, color: '#000',
      font: {family: o.fontFamily || SERIF, size: o.fontSize || 26},
      callback: (v, i, ts) => (ts[i] ? ts[i].text : '')
    },
    title: o.title
      ? {display: true, text: o.title, color: '#000', padding: 0, font: {family: SERIF, size: o.titleSize || 32, lineHeight: 1}}
      : {display: false}
  };
}

function series(pairs, color, style, r, fill) {
  return {
    data: pairs.map(p => ({x: p[0], y: p[1]})),
    showLine: true, tension: 0, borderColor: color, borderWidth: 1,
    pointStyle: style, pointRadius: r, pointBorderColor: color,
    pointBackgroundColor: fill || '#fff', pointBorderWidth: 1
  };
}

function drawMarker(ctx, style, x, y, r, color, fill) {
  ctx.beginPath();
  if (style === 'rect') {
    const h = r * Math.SQRT1_2;
    ctx.rect(x - h, y - h, 2 * h, 2 * h);
  } else if (style === 'triangle') {
    ctx.moveTo(x, y - r);
    ctx.lineTo(x + r * 0.866, y + r * 0.5);
    ctx.lineTo(x - r * 0.866, y + r * 0.5);
    ctx.closePath();
  } else {
    ctx.arc(x, y, r, 0, Math.PI * 2);
  }
  ctx.fillStyle = fill || '#fff';
  ctx.fill();
  ctx.strokeStyle = color;
  ctx.lineWidth = 1;
  ctx.stroke();
}

// inward ticks on all four sides plus the frame
function frameTicks(lw) {
  return {
    id: 'frameTicks',
    afterDatasetsDraw(chart) {
      const {ctx, chartArea: a} = chart;
      const xs = chart.scales.x, ys = chart.scales.y;
      ctx.save();
      ctx.strokeStyle = '#000';
      ctx.lineWidth = lw * 0.75;
      ctx.beginPath();
      xs.ticks.forEach(t => {
        const p = xs.getPixelForValue(t.value);
        if (p < a.left - 0.5 || p > a.right + 0.5) return;
        ctx.moveTo(p, a.bottom); ctx.lineTo(p, a.bottom - t.len);
        ctx.moveTo(p, a.top); ctx.lineTo(p, a.top + t.len);
      });
      ys.ticks.forEach(t => {
        const p = ys.getPixelForValue(t.value);
        if (p < a.top - 0.5 || p > a.bottom + 0.5) return;
        ctx.moveTo(a.left, p); ctx.lineTo(a.left + t.len, p);
        ctx.moveTo(a.right, p); ctx.lineTo(a.right - t.len, p);
      });
      ctx.stroke();
      ctx.lineWidth = lw;
      ctx.strokeRect(a.left, a.top, a.right - a.left, a.bottom - a.top);
      ctx.restore();
    }
  };
}

// labels, legends, arrows, error bars
function decor(spec) {
  return {
    id: 'decor',
    afterDraw(chart) {
      const ctx = chart.ctx, xs = chart.scales.x, ys = chart.scales.y;
      const px = p => [xs.getPixelForValue(p[0]), ys.getPixelForValue(p[1])];
      ctx.save();
      (spec.arrows || []).forEach(ar => {
        const p0 = px(ar.from), p1 = px(ar.to);
        const c = ar.via ? px(ar.via) : [(p0[0] + p1[0]) / 2, (p0[1] + p1[1]) / 2];
        const dx = p1[0] - c[0], dy = p1[1] - c[1], L = Math.hypot(dx, dy);
        const ux = dx / L, uy = dy / L, hl = ar.head || 18, hw = ar.half || 5;
        const bx = p1[0] - ux * hl, by = p1[1] - uy * hl;
        ctx.strokeStyle = '#000'; ctx.fillStyle = '#000'; ctx.lineWidth = 1.4;
        ctx.beginPath(); ctx.moveTo(p0[0], p0[1]); ctx.quadraticCurveTo(c[0], c[1], bx, by); ctx.stroke();
        ctx.beginPath(); ctx.moveTo(p1[0], p1[1]);
        ctx.lineTo(bx - uy * hw, by + ux * hw); ctx.lineTo(bx + uy * hw, by - ux * hw);
        ctx.closePath(); ctx.fill();
      });
      (spec.errors || []).forEach(er => {
        ctx.strokeStyle = er.color; ctx.lineWidth = 1.5;
        er.x.forEach((xv, i) => {
          const x = xs.getPixelForValue(xv);
          const yt = ys.getPixelForValue(er.y[i] + er.e[i]), yb = ys.getPixelForValue(er.y[i] - er.e[i]);
          ctx.beginPath();
          ctx.moveTo(x, yt); ctx.lineTo(x, yb);
          ctx.moveTo(x - er.cap, yt); ctx.lineTo(x + er.cap, yt);
          ctx.moveTo(x - er.cap, yb); ctx.lineTo(x + er.cap, yb);
          ctx.stroke();
        });
      });
      (spec.legend || []).forEach(l => {
        const ds = chart.data.datasets[l.ds];
        ctx.strokeStyle = ds.borderColor; ctx.lineWidth = 1;
        ctx.beginPath(); ctx.moveTo(l.x1, l.y); ctx.lineTo(l.x2, l.y); ctx.stroke();
        drawMarker(ctx, ds.pointStyle, (l.x1 + l.x2) / 2, l.y, l.r || ds.pointRadius + 1, ds.borderColor, ds.pointBackgroundColor);
        ctx.fillStyle = '#000'; ctx.font = l.font; ctx.textAlign = 'left'; ctx.textBaseline = 'middle';
        ctx.fillText(l.text, l.tx, l.y + 1);
      });
      (spec.texts || []).forEach(t => {
        ctx.save();
        ctx.translate(t.x, t.y);
        if (t.rot) ctx.rotate(t.rot);
        ctx.fillStyle = t.color || '#000'; ctx.font = t.font;
        ctx.textAlign = t.align || 'center'; ctx.textBaseline = 'middle';
        ctx.fillText(t.t, 0, 0);
        ctx.restore();
      });
      ctx.restore();
    }
  };
}

function panel(id, p) {
  const [L, T, R, B] = p.box;
  const pad = p.yRight
    ? {left: L, top: T, right: W - R - p.yW, bottom: H - B - p.xH}
    : {left: L - p.yW, top: T, right: W - R, bottom: H - B - p.xH};
  return new Chart(document.getElementById(id).getContext('2d'), {
    type: 'scatter',
    data: {datasets: p.datasets},
    options: {
      responsive: false, animation: false, events: [],
      layout: {padding: pad},
      plugins: {legend: {display: false}, tooltip: {enabled: false}},
      scales: {
        x: axis(Object.assign({position: 'bottom', size: p.xH}, p.x)),
        y: axis(Object.assign({position: p.yRight ? 'right' : 'left', size: p.yW}, p.y))
      }
    },
    plugins: [frameTicks(p.frame || 2), decor(p.decor || {})]
  });
}

const bold = s => 'bold ' + s + 'px ' + SERIF;
const reg = s => s + 'px ' + SERIF;

// ---------- (a) ----------
const aMin = 2e-10, aMax = 2.3e-4;
panel('pa', {
  box: [123, 13, 366, 347], yW: 103, xH: 64,
  x: {min: -2.5, max: 2.5, ticks: linTicks(xLabelsAB, [-2.5, -1.5, -0.5, 0.5, 1.5, 2.5], 11, 6), pad: 6, title: 'Voltage (V)'},
  y: {type: 'logarithmic', min: aMin, max: aMax, ticks: logTicks(aMin, aMax, yLabelsA, 20, 10), pad: 3,
      fontFamily: DJ, fontSize: 24, title: 'Current (A)'},
  datasets: [series(tSweep, '#000', 'rect', 4)],
  decor: {
    texts: [{t: '(a)', x: 164, y: 43, font: bold(26)}],
    legend: [{ds: 0, x1: 197, x2: 253, y: 49, text: 'T', tx: 258, font: bold(26), r: 5}],
    arrows: [
      {from: [1.06, 1.8e-5], via: [0.15, 1.6e-5], to: [0.14, 3.4e-6], head: 20, half: 5},
      {from: [0.0, 2.8e-6], via: [-0.51, 1.1e-5], to: [-1.4, 1.3e-5], head: 20, half: 5},
      {from: [-2.05, 7.9e-7], to: [-1.16, 4.5e-8]},
      {from: [-0.82, 1.95e-8], to: [-0.31, 3.6e-9]},
      {from: [0.55, 4.2e-9], to: [1.02, 4.2e-8]},
      {from: [1.21, 9.8e-8], to: [1.21, 1.7e-6]}
    ]
  }
});

// ---------- (b) ----------
panel('pb', {
  box: [430, 13, 674, 347], yW: 10, xH: 64,
  x: {min: -2.5, max: 2.5, ticks: linTicks(xLabelsAB, [-2.5, -1.5, -0.5, 0.5, 1.5, 2.5], 11, 6), pad: 6, title: 'Voltage (V)'},
  y: {type: 'logarithmic', min: aMin, max: aMax, ticks: logTicks(aMin, aMax, [], 20, 10), pad: 3},
  datasets: [series(tSweep, '#000', 'rect', 4), series(tbSweep, RED, 'circle', 3.5)],
  decor: {
    texts: [{t: '(b)', x: 465, y: 42, font: bold(26)}],
    legend: [
      {ds: 1, x1: 495, x2: 553, y: 42, text: 'TB', tx: 560, font: bold(26), r: 4},
      {ds: 0, x1: 495, x2: 553, y: 72, text: 'T', tx: 560, font: bold(26), r: 5}
    ]
  }
});

// ---------- (c) ----------
const cMin = 1.5e-10, cMax = 1.55e-3;
const chevDs = series(chevronC, '#000', 'circle', 0);
chevDs.borderWidth = 3;
const dashDs = series(dashC, '#000', 'circle', 0);
dashDs.borderWidth = 3.5; dashDs.borderDash = [11, 7];
panel('pc', {
  box: [738, 13, 982, 347], yW: 60, xH: 69,
  x: {min: 0, max: 1.71, ticks: linTicks(xLabelsC, [0.25, 0.75, 1.25], 16, 10), pad: 4, title: 'Voltage (V)'},
  y: {type: 'logarithmic', min: cMin, max: cMax, ticks: logTicks(cMin, cMax, yLabelsC, 20, 10), pad: 3, fontFamily: DJ, fontSize: 24},
  datasets: [
    chevDs, dashDs,
    series(bsa15, ORANGE, 'circle', 3.5, ORANGE),
    series(bsa8, GREEN, 'circle', 3.5, GREEN),
    series(bsa6, PURPLE, 'circle', 3.5, PURPLE),
    series(bsa6Low, PURPLE, 'circle', 3.5, PURPLE),
    series(bsa4, BLUE, 'rect', 4),
    series(bsa0, RED, 'rect', 4.5)
  ],
  decor: {
    texts: [
      {t: '(c)', x: 948, y: 43, font: bold(27)},
      {t: 'TB', x: 930, y: 135, font: bold(26)},
      {t: '15 mg/mL', x: 788, y: 57, rot: -Math.PI / 2, color: ORANGE, font: reg(22)},
      {t: '8 mg/mL', x: 812, y: 53, rot: -Math.PI / 2, color: GREEN, font: reg(22)},
      {t: '6 mg/mL', x: 830, y: 54, rot: -Math.PI / 2, color: PURPLE, font: reg(22)},
      {t: '4 mg/mL', x: 849, y: 56, rot: -Math.PI / 2, color: BLUE, font: reg(22)},
      {t: '0 mg/mL', x: 875, y: 57, rot: -Math.PI / 2, color: RED, font: reg(22)}
    ]
  }
});

// (c) inset
panel('pcInset', {
  box: [882, 206, 973, 299], yW: 40, xH: 33, frame: 1.5,
  x: {min: -2, max: 20, ticks: linTicks(insetXLabels, [5, 15], 7, 4), pad: 0, fontFamily: DJ, fontSize: 12,
      title: 'BSA (mg/mL)', titleSize: 19},
  y: {min: 0.3, max: 1.0, ticks: linTicks(insetYLabels, [0.45, 0.75], 7, 4), pad: 4, fontFamily: DJ, fontSize: 12},
  datasets: [series(bsaConc.map((c, i) => [c, vSet[i]]), RED, 'circle', 5)],
  decor: {
    errors: [{x: bsaConc, y: vSet, e: vSetErr, color: RED, cap: 9}],
    texts: [
      {t: 'V', x: 838, y: 272, rot: -Math.PI / 2, font: reg(24)},
      {t: 'SET', x: 850, y: 252, rot: -Math.PI / 2, font: reg(12)}
    ]
  }
});

// ---------- (d) ----------
const dMin = 4.2e-10, dMax = 2.05e-5;
panel('pd', {
  box: [123, 440, 367, 772], yW: 115, xH: 74,
  x: {min: -0.023, max: 1.074, ticks: linTicks(xLabelsD, [0.25, 0.75], 18, 12), pad: 9, title: 'Voltage (V)'},
  y: {type: 'logarithmic', min: dMin, max: dMax, ticks: logTicks(dMin, dMax, yLabelsD, 22, 12), pad: 3,
      fontFamily: DJ, fontSize: 24, title: 'Current (A)'},
  datasets: [
    series(dTGB, GREEN, 'triangle', 4.5),
    series(dTB, RED, 'circle', 4),
    series(dT, '#000', 'rect', 4.5)
  ],
  decor: {
    texts: [{t: '(d)', x: 335, y: 631, font: bold(26)}],
    legend: [
      {ds: 2, x1: 230, x2: 287, y: 678, text: 'T', tx: 295, font: reg(24), r: 5},
      {ds: 1, x1: 230, x2: 287, y: 709, text: 'TB', tx: 295, font: reg(24), r: 4.5},
      {ds: 0, x1: 230, x2: 287, y: 742, text: 'TGB', tx: 295, font: reg(24), r: 5}
    ]
  }
});

// ---------- (e) ----------
panel('pe', {
  box: [430, 440, 674, 772], yW: 75, xH: 59,
  x: {min: -1, max: 1, ticks: linTicks(xLabelsE, [-0.5, 0.5], 14, 14), pad: 7, title: 'Voltage (V)'},
  y: {type: 'logarithmic', min: 1e-10, max: 1e-2, ticks: logTicks(1e-10, 1e-2, yLabelsE, 30, 15), pad: 2, fontFamily: DJ, fontSize: 24},
  datasets: [
    series(cc500, GREEN, 'triangle', 4.5),
    series(cc100, PURPLE, 'circle', 4),
    series(cc10, RED, 'rect', 4.5)
  ],
  decor: {
    texts: [{t: '(e)', x: 494, y: 718, font: bold(26)}, {t: 'TGB', x: 599, y: 717, font: bold(25)}],
    legend: [
      {ds: 2, x1: 442, x2: 492, y: 457, text: '10 μA', tx: 502, font: reg(22), r: 5},
      {ds: 1, x1: 442, x2: 492, y: 484, text: '100 μA', tx: 502, font: reg(22), r: 5},
      {ds: 0, x1: 442, x2: 492, y: 510, text: '500 μA', tx: 502, font: reg(22), r: 5.5}
    ]
  }
});

// ---------- (f) ----------
const byCycle = (vals, first) => vals.map((v, i) => [first + i, v * 1e3]);
panel('pf', {
  box: [738, 440, 982, 773], yW: 60, xH: 71, yRight: true,
  x: {min: -24, max: 351, ticks: linTicks(xLabelsF, [50, 150, 250], 22, 14), pad: 5, title: 'No of cycles'},
  y: {type: 'logarithmic', min: 1e3, max: 1e7, ticks: logTicks(1e3, 1e7, yLabelsF, 30, 15), pad: 8, fontSize: 26},
  datasets: [
    series(byCycle(lrs10uA, 1), RED, 'rect', 4),
    series(byCycle(lrs100uA, 100), PURPLE, 'circle', 3.5),
    series(byCycle(lrs500uA, 200), GREEN, 'triangle', 4.5)
  ],
  decor: {
    texts: [
      {t: 'TGB', x: 915, y: 483, font: bold(30)},
      {t: 'LRS', x: 918, y: 528, font: bold(30)},
      {t: '(f)', x: 795, y: 727, font: bold(26)},
      {t: '10 μA', x: 787, y: 502, font: reg(23)},
      {t: '100 μA', x: 864, y: 572, font: reg(23)},
      {t: '500 μA', x: 929, y: 668, font: reg(23)},
      {t: 'Resistance (Ω)', x: 1050, y: 612, rot: -Math.PI / 2, font: reg(36)}
    ]
  }
});
</script>
</body>
</html>
